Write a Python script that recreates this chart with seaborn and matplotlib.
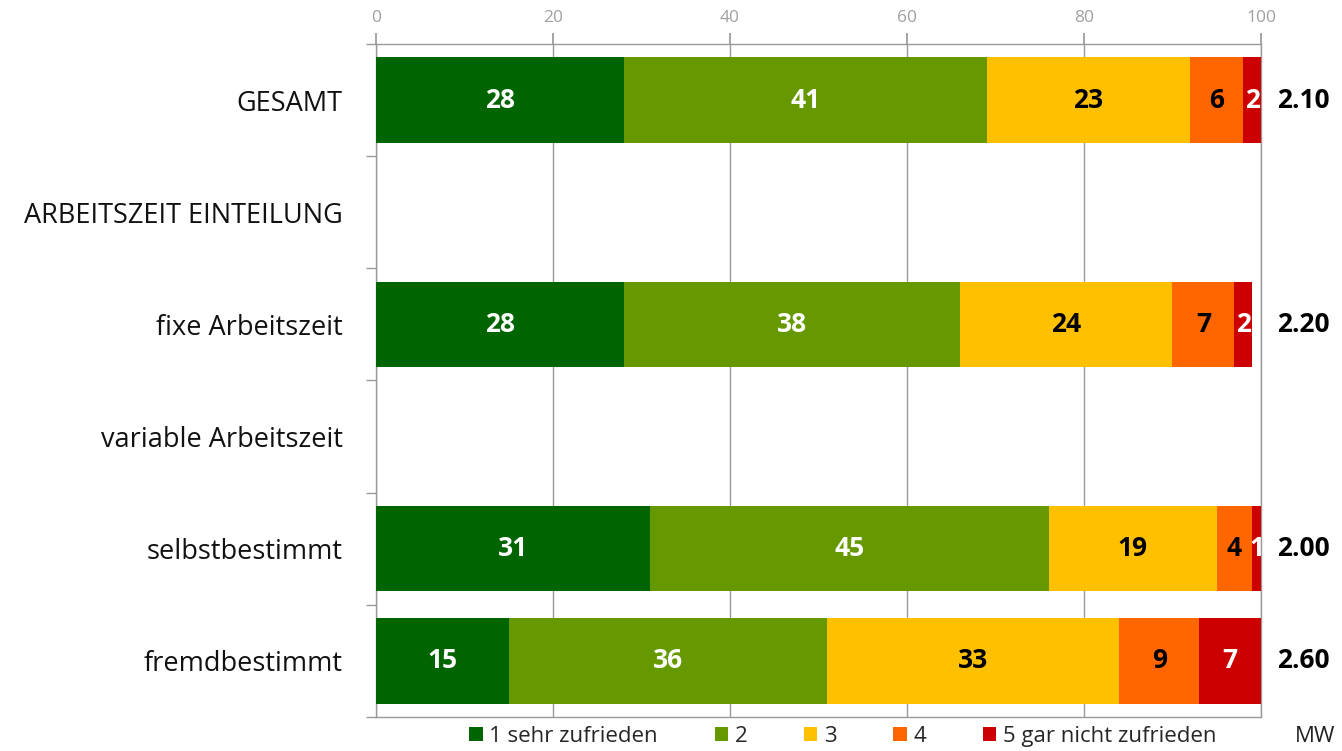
import numpy as np
import pandas as pd
import seaborn as sns
import matplotlib.pyplot as plt
from matplotlib.patches import Patch

categories = ["GESAMT", "ARBEITSZEIT EINTEILUNG", "fixe Arbeitszeit",
              "variable Arbeitszeit", "selbstbestimmt", "fremdbestimmt"]
s1 = [28, np.nan, 28, np.nan, 31, 15]
s2 = [41, np.nan, 38, np.nan, 45, 36]
s3 = [23, np.nan, 24, np.nan, 19, 33]
s4 = [6, np.nan, 7, np.nan, 4, 9]
s5 = [2, np.nan, 2, np.nan, 1, 7]
mw = ["2.10", "", "2.20", "", "2.00", "2.60"]
series_names = ["1 sehr zufrieden", "2", "3", "4", "5 gar nicht zufrieden"]
colors = ["#006400", "#669900", "#FFC000", "#FF6600", "#CC0000"]
label_colors = ["white", "white", "black", "black", "white"]

sns.set_theme(style="white")
plt.rcParams['font.family'] = ['Open Sans', 'DejaVu Sans']

df = pd.DataFrame({"cat": categories, "s1": s1, "s2": s2, "s3": s3, "s4": s4, "s5": s5})
cols = ["s1", "s2", "s3", "s4", "s5"]
cum = df[cols].cumsum(axis=1).fillna(0)
cum["cat"] = df["cat"]

fig = plt.figure(figsize=(13.42, 7.51), dpi=100)
ax = fig.add_axes([0.2802, 0.0453, 0.6594, 0.8961])

# stacked bars: draw cumulative totals from largest to smallest
for i in reversed(range(5)):
    sns.barplot(data=cum, x=cols[i], y="cat", order=categories, orient="h",
                color=colors[i], saturation=1, width=0.76, linewidth=0, ax=ax, zorder=3)

# segment labels
for r, cat in enumerate(categories):
    left = 0
    for i, c in enumerate(cols):
        v = df.loc[r, c]
        if np.isnan(v):
            continue
        ax.text(left + v / 2, r, f"{int(v)}", ha="center", va="center",
                color=label_colors[i], fontsize=19, fontweight="bold", zorder=5)
        left += v
    if mw[r]:
        ax.text(1.018, r, mw[r], transform=ax.get_yaxis_transform(), ha="left", va="center",
                fontsize=19, fontweight="bold", color="black")

ax.set_xlim(0, 100)
ax.set_ylim(len(categories) - 0.5, -0.5)
ax.set_xticks([0, 20, 40, 60, 80, 100])
ax.xaxis.tick_top()
ax.tick_params(axis="x", top=True, bottom=False, length=8, color="#999999",
               labelcolor="#A0A0A0", labelsize=12.5, pad=5)
ax.set_yticks(range(len(categories)))
ax.set_yticks(np.arange(-0.5, len(categories)), minor=True)
ax.tick_params(axis="y", which="major", length=0, labelsize=19.5, pad=24, labelcolor="#111111")
ax.tick_params(axis="y", which="minor", left=True, length=7, color="#999999")
ax.grid(axis="x", color="#999999", linewidth=1, zorder=0)
ax.set_axisbelow(True)
ax.set_xlabel("")
ax.set_ylabel("")
for s in ["top", "bottom", "left", "right"]:
    ax.spines[s].set_visible(True)
    ax.spines[s].set_color("#999999")
    ax.spines[s].set_linewidth(1)

handles = [Patch(facecolor=c, edgecolor="none") for c in colors]
fig.legend(handles, series_names, loc="center", bbox_to_anchor=(0.628, 0.019), ncol=5,
           frameon=False, fontsize=16, handlelength=0.6, handleheight=0.6,
           handletextpad=0.3, columnspacing=2.55, borderpad=0)
fig.text(0.965, 0.019, "MW", ha="left", va="center", fontsize=16, color="#222222")

fig.savefig("out.png", dpi=100)
